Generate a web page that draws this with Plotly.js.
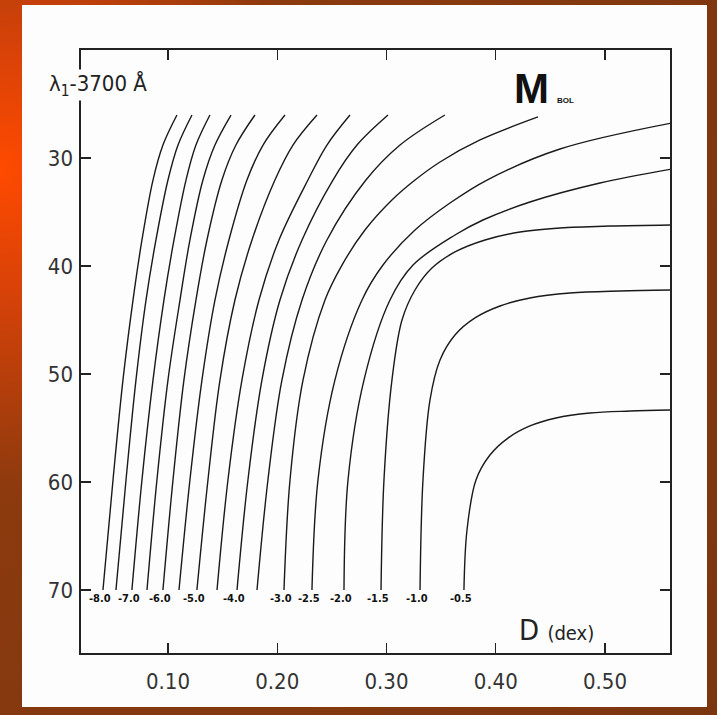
<!DOCTYPE html>
<html>
<head>
<meta charset="utf-8">
<script src="https://cdn.plot.ly/plotly-3.0.1.min.js"></script>
<style>
html,body{margin:0;padding:0;width:717px;height:715px;overflow:hidden;}
body{background:radial-gradient(circle at 0px 170px,#ff4a00 0px,#d84208 120px,#8c3a0e 320px,#7b3610 100%);}
#panel{position:absolute;left:22px;top:5px;width:685px;height:702px;background:#fdfdfd;}
#chart{position:absolute;left:0;top:0;width:717px;height:715px;}
</style>
</head>
<body>
<div id="panel"></div>
<div id="chart"></div>
<script>
// M_bol contour levels
const levels = [-8.0,-7.5,-7.0,-6.5,-6.0,-5.5,-5.0,-4.5,-4.0,-3.5,-3.0,-2.5,-2.0,-1.5,-1.0,-0.5];
const levelLabels = ["-8.0","","-7.0","","-6.0","","-5.0","","-4.0","","-3.0","-2.5","-2.0","-1.5","-1.0","-0.5"];
// lambda_1 - 3700 Å along each contour (one row per level)
const yLeft = [70,59.81,50.56,43.15,37.59,32.04,28.80,26.02];
const lamVals = [
  yLeft, yLeft, yLeft, yLeft, yLeft, yLeft, yLeft, yLeft, yLeft, yLeft,
  [70,59.81,50.56,43.15,39.91,36.67,33.89,32.04,30.37,28.33,26.20],
  [70,59.81,50.56,43.15,39.91,36.67,34.17,32.04,29.17,26.76],
  [70,59.81,50.56,43.15,39.91,37.13,35.74,34.07,32.31,31.02],
  [70,59.81,50.56,45.00,42.22,40.19,38.70,37.59,36.85,36.48,36.30,36.20],
  [70,59.81,52.41,48.70,46.39,44.81,43.70,42.96,42.50,42.31,42.22],
  [70,64.44,59.81,57.50,55.93,54.81,54.07,53.61,53.43,53.33]
];
// D (dex) along each contour
const dVals = [
  [0.0405,0.0497,0.0588,0.0680,0.0762,0.0863,0.0954,0.1082],
  [0.0524,0.0616,0.0707,0.0799,0.0890,0.1000,0.1092,0.1220],
  [0.0670,0.0762,0.0863,0.0963,0.1055,0.1165,0.1256,0.1384],
  [0.0808,0.0899,0.1000,0.1110,0.1201,0.1320,0.1430,0.1577],
  [0.0954,0.1046,0.1146,0.1256,0.1357,0.1494,0.1622,0.1796],
  [0.1101,0.1201,0.1311,0.1430,0.1558,0.1723,0.1870,0.2071],
  [0.1265,0.1366,0.1476,0.1613,0.1769,0.1979,0.2144,0.2364],
  [0.1449,0.1549,0.1677,0.1833,0.2016,0.2281,0.2455,0.2666],
  [0.1632,0.1732,0.1860,0.2025,0.2227,0.2510,0.2730,0.3014],
  [0.1815,0.1915,0.2043,0.2227,0.2455,0.2812,0.3124,0.3535],
  [0.2062,0.2117,0.2236,0.2437,0.2593,0.2803,0.3050,0.3261,0.3490,0.3856,0.4387],
  [0.2318,0.2373,0.2528,0.2776,0.2968,0.3261,0.3581,0.3920,0.4588,0.5613],
  [0.2611,0.2648,0.2794,0.3032,0.3243,0.3627,0.3883,0.4313,0.4954,0.5613],
  [0.2950,0.2977,0.3050,0.3142,0.3261,0.3416,0.3627,0.3902,0.4222,0.4588,0.5046,0.5613],
  [0.3307,0.3334,0.3398,0.3490,0.3627,0.3810,0.4039,0.4313,0.4680,0.5137,0.5613],
  [0.3709,0.3737,0.3819,0.3947,0.4112,0.4313,0.4551,0.4863,0.5229,0.5613]
];
const xTicks = [0.10,0.20,0.30,0.40,0.50];
const xTickText = ["0.10","0.20","0.30","0.40","0.50"];
const yTicks = [30,40,50,60,70];
const yTickText = ["30","40","50","60","70"];

const traces = levels.map((lv,i)=>({
  type:'scatter', mode:'lines', x:dVals[i], y:lamVals[i],
  line:{color:'#1a1a1a', width:1.4, shape:'spline', smoothing:1.0},
  hoverinfo:'skip', showlegend:false, name:String(lv)
}));

const narrow = '"Liberation Sans Narrow","DejaVu Sans Condensed","Roboto Condensed",sans-serif';
const annotations = [];
levels.forEach((lv,i)=>{
  if(!levelLabels[i]) return;
  annotations.push({x:dVals[i][0], y:lamVals[i][0], xref:'x', yref:'y', text:'<b>'+levelLabels[i]+'</b>',
    showarrow:false, xanchor:'center', yanchor:'middle', xshift:-3, yshift:-8,
    font:{family:narrow, size:11, color:'#111'}});
});
annotations.push({xref:'paper', yref:'paper', x:0.1138, y:1.0, yshift:-35, xanchor:'right', yanchor:'middle',
  text:'λ<sub>1</sub>-3700 Å', showarrow:false, bgcolor:'#fdfdfd', borderpad:0,
  font:{family:narrow, size:22, color:'#222'}});
annotations.push({xref:'paper', yref:'paper', x:0.7317, y:1.0, yshift:-38, xanchor:'left', yanchor:'middle',
  text:'<b>M</b>', showarrow:false,
  font:{family:'"Liberation Sans",Arial,sans-serif', size:42, color:'#111'}});
annotations.push({xref:'paper', yref:'paper', x:0.805, y:1.0, yshift:-50, xanchor:'left', yanchor:'middle',
  text:'<b>BOL</b>', showarrow:false,
  font:{family:'"Liberation Sans",Arial,sans-serif', size:8, color:'#111'}});
annotations.push({xref:'paper', yref:'paper', x:0.7402, y:0, yshift:23, xanchor:'left', yanchor:'middle',
  text:'D <span style="font-size:20px">(dex)</span>', showarrow:false,
  font:{family:narrow, size:29, color:'#222'}});

const axisCommon = {showgrid:false, zeroline:false, showline:true, linecolor:'#222', linewidth:1.6,
  mirror:'ticks', ticks:'inside', ticklen:10, tickwidth:1.4, tickcolor:'#222'};

const layout = {
  width:717, height:715,
  margin:{l:81, r:47, t:50, b:62, pad:0},
  paper_bgcolor:'rgba(0,0,0,0)', plot_bgcolor:'#fdfdfd',
  showlegend:false,
  xaxis:Object.assign({}, axisCommon, {range:[0.0204,0.5595], tickvals:xTicks, ticktext:xTickText,
    tickfont:{family:narrow, size:22, color:'#333'}, ticklabelstandoff:8}),
  yaxis:Object.assign({}, axisCommon, {range:[75.83,20], tickvals:yTicks, ticktext:yTickText,
    tickfont:{family:'"DejaVu Sans Condensed","DejaVu Sans",sans-serif', size:22, color:'#333'}, ticklabelstandoff:2}),
  annotations:annotations
};
Plotly.newPlot('chart', traces, layout, {displayModeBar:false, staticPlot:true});
</script>
</body>
</html>
